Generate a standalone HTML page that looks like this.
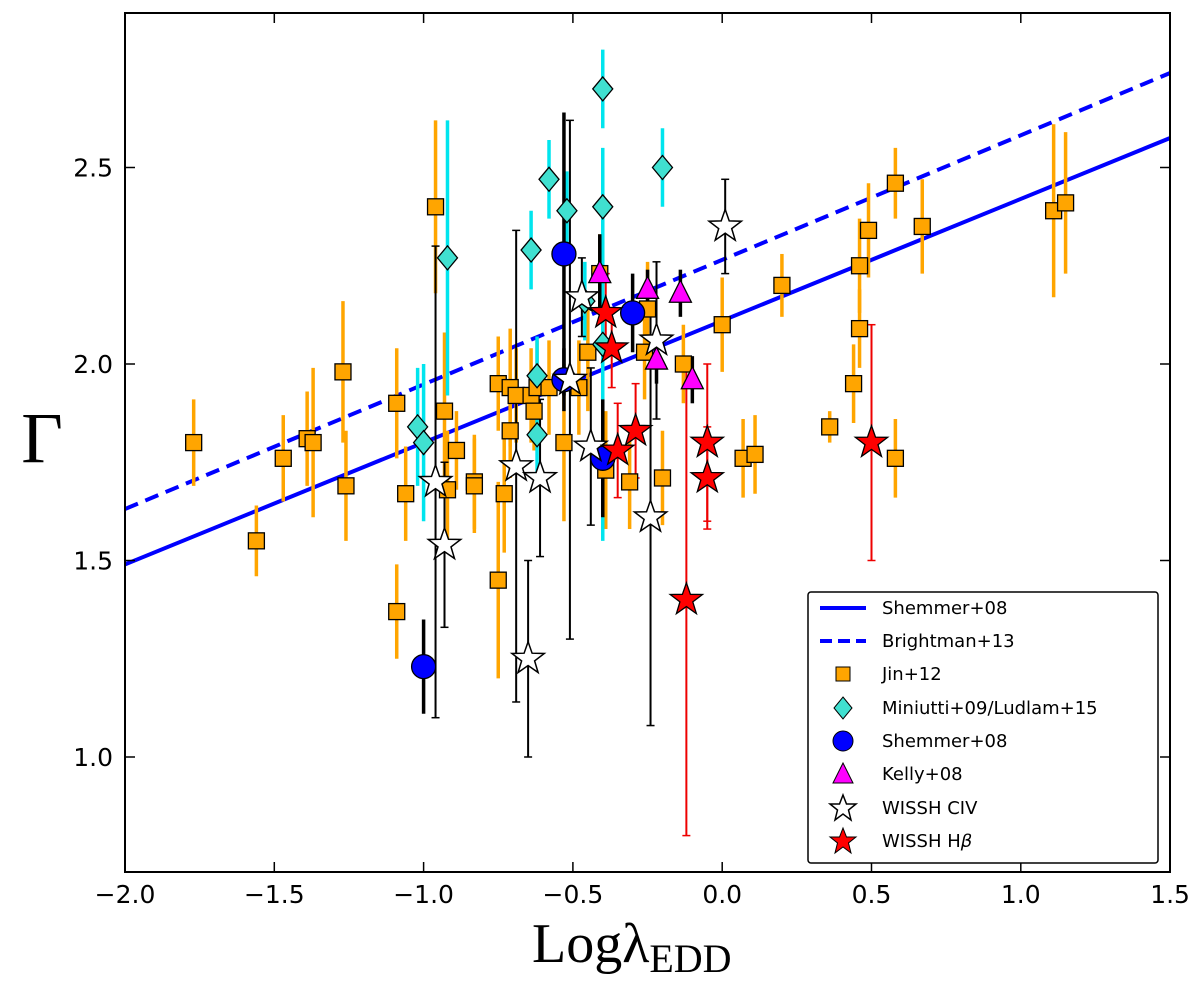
<!DOCTYPE html>
<html><head><meta charset="utf-8">
<style>
body{margin:0;background:#fff;}
svg{display:block;font-family:"DejaVu Sans","Liberation Sans",sans-serif;}
</style></head>
<body>
<svg id="chart" width="1200" height="988" xmlns="http://www.w3.org/2000/svg">
<defs><clipPath id="clip"><rect x="125" y="13" width="1045" height="859"/></clipPath></defs>
<g id="plot" clip-path="url(#clip)"></g>
<g id="axes"></g>
</svg>
<script>
const xTicks=[-2.0,-1.5,-1.0,-0.5,0.0,0.5,1.0,1.5];
const xTickLabels=["\u22122.0","\u22121.5","\u22121.0","\u22120.5","0.0","0.5","1.0","1.5"];
const yTicks=[1.0,1.5,2.0,2.5];
const yTickLabels=["1.0","1.5","2.0","2.5"];
const shemmerLine=[0.31,2.11];
const brightmanLine=[0.317,2.265];
const jinX=[-1.77,-1.56,-1.47,-1.39,-1.37,-1.27,-1.26,-1.09,-1.09,-1.06,-0.96,-0.93,-0.92,-0.89,-0.83,-0.83,-0.75,-0.75,-0.73,-0.71,-0.71,-0.69,-0.64,-0.63,-0.62,-0.58,-0.53,-0.48,-0.45,-0.41,-0.39,-0.31,-0.26,-0.25,-0.20,-0.13,0.00,0.07,0.11,0.20,0.36,0.44,0.46,0.46,0.49,0.58,0.58,0.67,1.11,1.15];
const jinY=[1.80,1.55,1.76,1.81,1.80,1.98,1.69,1.90,1.37,1.67,2.40,1.88,1.68,1.78,1.70,1.69,1.95,1.45,1.67,1.94,1.83,1.92,1.92,1.88,1.94,1.94,1.80,1.94,2.03,2.23,1.73,1.70,2.03,2.14,1.71,2.00,2.10,1.76,1.77,2.20,1.84,1.95,2.09,2.25,2.34,1.76,2.46,2.35,2.39,2.41];
const jinErr=[0.11,0.09,0.11,0.12,0.19,0.18,0.14,0.14,0.12,0.12,0.22,0.2,0.15,0.1,0.12,0.12,0.12,0.25,0.15,0.15,0.12,0.12,0.12,0.1,0.12,0.12,0.2,0.12,0.15,0.1,0.15,0.12,0.12,0.12,0.12,0.1,0.12,0.1,0.1,0.08,0.04,0.1,0.1,0.12,0.12,0.1,0.09,0.12,0.22,0.18];
const minX=[-0.40,-0.20,-0.58,-0.52,-0.40,-0.92,-0.64,-0.46,-0.62,-0.62,-1.02,-1.00,-0.40];
const minY=[2.70,2.50,2.47,2.39,2.40,2.27,2.29,2.16,1.97,1.82,1.84,1.80,2.05];
const minErr=[0.1,0.1,0.1,0.1,0.1,0.35,0.1,0.1,0.1,0.1,0.15,0.2,0.5];
const shemX=[-1.00,-0.53,-0.53,-0.30,-0.40];
const shemY=[1.23,2.28,1.96,2.13,1.76];
const shemErr=[0.12,0.36,0.08,0.1,0.15];
const kellyX=[-0.41,-0.25,-0.14,-0.22,-0.10];
const kellyY=[2.23,2.19,2.18,2.01,1.96];
const kellyErr=[0.1,0.05,0.06,0.06,0.06];
const civX=[0.01,-0.47,-0.22,-0.51,-0.44,-0.69,-0.61,-0.96,-0.93,-0.24,-0.65];
const civY=[2.35,2.17,2.06,1.96,1.79,1.74,1.71,1.70,1.54,1.61,1.25];
const civErr=[0.12,0.1,0.2,0.66,0.2,0.6,0.2,0.6,0.21,0.53,0.25];
const hbX=[-0.39,-0.37,-0.35,-0.29,-0.05,-0.05,0.50,-0.12];
const hbY=[2.13,2.04,1.78,1.83,1.80,1.71,1.80,1.40];
const hbErr=[0.1,0.1,0.12,0.12,0.2,0.13,0.3,0.6];

const NS="http://www.w3.org/2000/svg";
const X=v=>125+(v+2)*298.6;
const Y=v=>364-(v-2)*393;
const plot=document.getElementById('plot'),axes=document.getElementById('axes');
function mk(tag,attrs,parent){const e=document.createElementNS(NS,tag);for(const k in attrs)e.setAttribute(k,attrs[k]);parent.appendChild(e);return e;}
function star(cx,cy,r){let p=[];for(let i=0;i<10;i++){const rr=i%2?r*0.4:r;const a=-Math.PI/2+i*Math.PI/5;p.push((cx+rr*Math.cos(a)).toFixed(1)+','+(cy+rr*Math.sin(a)).toFixed(1));}return p.join(' ');}
function err(x,y,e,color,w,cap){const g=mk('g',{},plot);


mk('line',{x1:X(x),x2:X(x),y1:Y(y-e),y2:Y(y+e),stroke:color,'stroke-width':w},g);
if(cap){mk('line',{x1:X(x)-4,x2:X(x)+4,y1:Y(y-e),y2:Y(y-e),stroke:color,'stroke-width':1.5},g);mk('line',{x1:X(x)-4,x2:X(x)+4,y1:Y(y+e),y2:Y(y+e),stroke:color,'stroke-width':1.5},g);}}
function fitLine(p,dash,name){const l=mk('line',{x1:X(-2),y1:Y(p[0]*-2+p[1]),x2:X(1.5),y2:Y(p[0]*1.5+p[1]),stroke:'#0000ff','stroke-width':4},plot);if(dash)l.setAttribute('stroke-dasharray','14,8');

}
fitLine(shemmerLine,false,'shemmer-fit-line');
fitLine(brightmanLine,true,'brightman-fit-line');
jinX.forEach((x,i)=>err(x,jinY[i],jinErr[i],'#ffa500',3.5,false));
minX.forEach((x,i)=>err(x,minY[i],minErr[i],'#00e5ee',3.5,false));
shemX.forEach((x,i)=>err(x,shemY[i],shemErr[i],'#000',3.5,false));
kellyX.forEach((x,i)=>err(x,kellyY[i],kellyErr[i],'#000',3.5,false));
civX.forEach((x,i)=>err(x,civY[i],civErr[i],'#000',2,true));
hbX.forEach((x,i)=>err(x,hbY[i],hbErr[i],'#ee0000',2,true));
jinX.forEach((x,i)=>{const m=mk('rect',{x:X(x)-8,y:Y(jinY[i])-8,width:16,height:16,fill:'#ffa500',stroke:'#000','stroke-width':1.3},plot);

});
minX.forEach((x,i)=>{const cx=X(x),cy=Y(minY[i]);const m=mk('polygon',{points:`${cx},${cy-12} ${cx+10},${cy} ${cx},${cy+12} ${cx-10},${cy}`,fill:'#40e0d0',stroke:'#000','stroke-width':1.3},plot);

});
shemX.forEach((x,i)=>{const m=mk('circle',{cx:X(x),cy:Y(shemY[i]),r:12,fill:'#0000ff',stroke:'#000','stroke-width':1.3},plot);

});
kellyX.forEach((x,i)=>{const cx=X(x),cy=Y(kellyY[i]);const m=mk('polygon',{points:`${cx},${cy-13} ${cx+11},${cy+9} ${cx-11},${cy+9}`,fill:'#ff00ff',stroke:'#000','stroke-width':1.3},plot);

});
civX.forEach((x,i)=>{const m=mk('polygon',{points:star(X(x),Y(civY[i]),17),fill:'#fff',stroke:'#000','stroke-width':1.5},plot);

});
hbX.forEach((x,i)=>{const m=mk('polygon',{points:star(X(x),Y(hbY[i]),17),fill:'#ff0000',stroke:'#000','stroke-width':1.3},plot);

});
mk('rect',{x:125,y:13,width:1045,height:859,fill:'none',stroke:'#000','stroke-width':2},axes);
xTicks.forEach((t,i)=>{const x=X(t);mk('line',{x1:x,x2:x,y1:872,y2:862,stroke:'#000','stroke-width':1.5},axes);mk('line',{x1:x,x2:x,y1:13,y2:23,stroke:'#000','stroke-width':1.5},axes);
const tx=mk('text',{x:x,y:903,'text-anchor':'middle','font-size':25},axes);tx.textContent=xTickLabels[i];

});
yTicks.forEach((t,i)=>{const y=Y(t);mk('line',{x1:125,x2:135,y1:y,y2:y,stroke:'#000','stroke-width':1.5},axes);mk('line',{x1:1170,x2:1160,y1:y,y2:y,stroke:'#000','stroke-width':1.5},axes);
const tx=mk('text',{x:113,y:y+9,'text-anchor':'end','font-size':25},axes);tx.textContent=yTickLabels[i];

});
</script>
<svg style="position:absolute;left:0;top:0" width="1200" height="988">
<text x="42" y="462" font-family="Liberation Serif,serif" font-size="72" text-anchor="middle">Γ</text>
<text x="532" y="962" font-family="Liberation Serif,serif" font-size="56">Logλ<tspan font-size="40" dy="10">EDD</tspan></text>
<g font-family="DejaVu Sans,sans-serif" font-size="18">
<rect x="808" y="592" width="350" height="271" fill="#fff" stroke="#000" stroke-width="1.5" rx="3"/>
<line x1="820" x2="866" y1="608" y2="608" stroke="#0000ff" stroke-width="4"/><text x="882" y="614">Shemmer+08</text>
<line x1="820" x2="866" y1="641" y2="641" stroke="#0000ff" stroke-width="4" stroke-dasharray="12,6"/><text x="882" y="647">Brightman+13</text>
<rect x="836" y="667" width="14" height="14" fill="#ffa500" stroke="#000"/><text x="882" y="680">Jin+12</text>
<polygon points="843,697 852,708 843,719 834,708" fill="#40e0d0" stroke="#000"/><text x="882" y="714">Miniutti+09/Ludlam+15</text>
<circle cx="843" cy="741" r="10" fill="#0000ff" stroke="#000"/><text x="882" y="747">Shemmer+08</text>
<polygon points="843,763 853,783 833,783" fill="#ff00ff" stroke="#000"/><text x="882" y="780">Kelly+08</text>
<polygon points="843,795 846.5,804 856,804 848.5,810 851,820 843,814 835,820 837.5,810 830,804 839.5,804" fill="#fff" stroke="#000" stroke-width="1.5"/><text x="882" y="814">WISSH CIV</text>
<polygon points="843,828 846.5,837 856,837 848.5,843 851,853 843,847 835,853 837.5,843 830,837 839.5,837" fill="#ff0000" stroke="#000"/><text x="882" y="847">WISSH H<tspan font-style="italic">β</tspan></text>
</g>
</svg>
</body></html>
